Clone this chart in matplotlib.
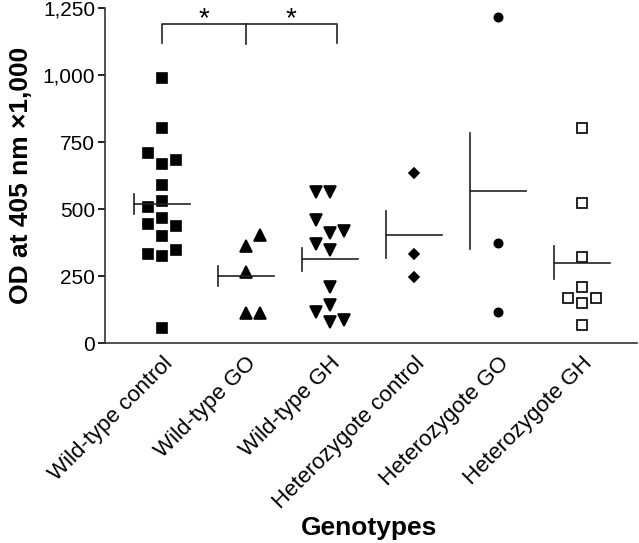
import numpy as np
import matplotlib
matplotlib.use("Agg")
import matplotlib.pyplot as plt

plt.rcParams['font.family'] = ['Liberation Sans', 'DejaVu Sans']

groups = ["Wild-type control", "Wild-type GO", "Wild-type GH",
          "Heterozygote control", "Heterozygote GO", "Heterozygote GH"]

# OD values
wt_control = [989, 802, 709, 683, 668, 590, 530, 507, 466, 444, 437, 399, 347, 332, 325, 56]
wt_control_jit = [0, 0, -1, 1, 0, 0, 0, -1, 0, -1, 1, 0, 1, -1, 0, 0]
wt_go = [403, 362, 265, 112, 112]
wt_go_jit = [1, 0, 0, 0, 1]
wt_gh = [565, 565, 459, 410, 418, 369, 347, 209, 142, 116, 78, 86]
wt_gh_jit = [-1, 0, -1, 0, 1, -1, 0, 0, 0, -1, 0, 1]
het_control = [634, 332, 246]
het_control_jit = [0, 0, 0]
het_go = [1216, 373, 116]
het_go_jit = [0, 0, 0]
het_gh = [802, 522, 321, 209, 168, 149, 168, 67]
het_gh_jit = [0, 0, 0, 0, -1, 0, 1, 0]

# error bar half-lengths
errors = [37, 39, 43, 88, 217, 62]

values = [wt_control, wt_go, wt_gh, het_control, het_go, het_gh]
jitters = [wt_control_jit, wt_go_jit, wt_gh_jit, het_control_jit, het_go_jit, het_gh_jit]
styles = [dict(marker='s', ms=7, mfc='black'),
          dict(marker='^', ms=8.5, mfc='black'),
          dict(marker='v', ms=8.5, mfc='black'),
          dict(marker='D', ms=5, mfc='black'),
          dict(marker='o', ms=6, mfc='black'),
          dict(marker='s', ms=6.5, mfc='white')]

fig = plt.figure(figsize=(6.39, 5.43), dpi=100)
ax = fig.add_axes([0.164, 0.368, 0.833, 0.617])

step = 0.17
half = 0.333
for i, (vals, jit, st) in enumerate(zip(values, jitters, styles)):
    x = i + np.array(jit) * step
    ax.plot(x, vals, linestyle='none', mec='black', mew=1.2, clip_on=False, **st)
    m = np.mean(vals)
    ax.plot([i - half, i + half], [m, m], color='#222222', lw=1.2)
    ax.plot([i - half, i - half], [m - errors[i], m + errors[i]], color='#222222', lw=1.2)

# significance bracket
yb, yt = 1120, 1190
xr = 2.08
ax.plot([0, 0, xr, xr], [yb, yt, yt, yb], color='#222222', lw=1.2, clip_on=False)
ax.plot([1, 1], [yb - 5, yt], color='#222222', lw=1.2, clip_on=False)
for xs in (0.5, (1 + xr) / 2):
    ax.text(xs, 1210, '*', ha='center', va='center', fontsize=20)

ax.set_xlim(-0.68, 5.655)
ax.set_ylim(0, 1250)
ax.set_yticks([0, 250, 500, 750, 1000, 1250])
ax.set_yticklabels(['0', '250', '500', '750', '1,000', '1,250'], fontsize=15)
ax.set_xticks(range(len(groups)))
ax.set_xticklabels(groups, rotation=45, ha='right', va='top', rotation_mode='anchor', fontsize=16)
ax.tick_params(axis='x', length=0, pad=7)
ax.tick_params(axis='y', length=5, width=1.2, pad=2)
for s in ('top', 'right'):
    ax.spines[s].set_visible(False)
for s in ('left', 'bottom'):
    ax.spines[s].set_linewidth(1.2)
    ax.spines[s].set_color('#333333')

ax.set_ylabel('OD at 405 nm \u00d71,000', fontsize=19, fontweight='bold')
ax.yaxis.set_label_coords(-0.135, 0.5)
fig.text(0.578, 0.028, 'Genotypes', ha='center', va='center', fontsize=19, fontweight='bold')

fig.savefig('out.png', dpi=100)
